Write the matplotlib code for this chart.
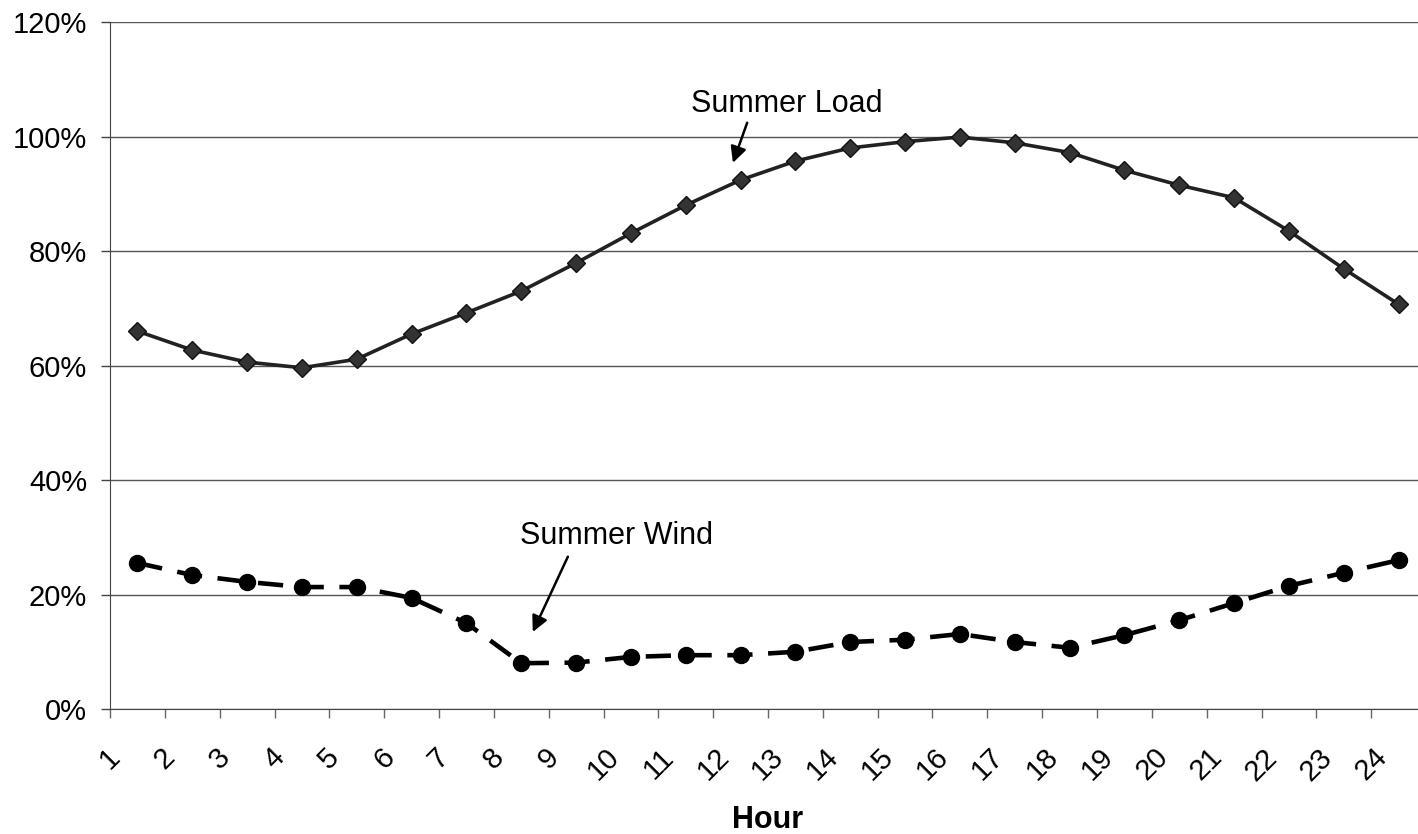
import matplotlib
matplotlib.use("Agg")
import matplotlib.pyplot as plt
from matplotlib.ticker import FuncFormatter
import numpy as np

hours = list(range(1, 25))
summer_load = [66.0, 62.7, 60.6, 59.6, 61.1, 65.5, 69.2, 73.0, 77.9, 83.1, 88.0, 92.4,
               95.7, 98.0, 99.1, 99.9, 98.9, 97.2, 94.1, 91.5, 89.3, 83.5, 76.9, 70.7]
summer_wind = [25.5, 23.4, 22.2, 21.3, 21.3, 19.4, 15.0, 8.0, 8.1, 9.1, 9.4, 9.4,
               10.0, 11.7, 12.1, 13.1, 11.7, 10.7, 12.9, 15.5, 18.5, 21.5, 23.8, 26.0]
y_ticks = [0, 20, 40, 60, 80, 100, 120]

plt.rcParams['font.family'] = ['Liberation Sans', 'DejaVu Sans']

fig = plt.figure(figsize=(14.18, 8.34), dpi=100)
ax = fig.add_axes([110/1418, 1-709/834, (1426-110)/1418, (709-22)/834])

x = np.arange(len(hours)) + 0.5
ax.plot(x, summer_load, color='#222222', lw=2.6, marker='D', ms=9.5,
        markerfacecolor='#333333', markeredgecolor='#111111', zorder=3, clip_on=False)
ax.plot(x, summer_wind, color='black', lw=3.3, ls=(0, (5.5, 3.4)), marker='o', ms=11.5,
        markerfacecolor='black', markeredgecolor='black', zorder=3, clip_on=False)

ax.set_xlim(0, 24)
ax.set_ylim(0, 120)
ax.set_yticks(y_ticks)
ax.yaxis.set_major_formatter(FuncFormatter(lambda v, p: f"{int(v)}%"))
ax.set_xticks(np.arange(24))
ax.set_xticklabels([str(h) for h in hours], rotation=45, ha='center', va='top')

ax.grid(axis='y', color='#555555', lw=1.0)
ax.set_axisbelow(True)
for s in ['top', 'right']:
    ax.spines[s].set_visible(False)
ax.spines['left'].set_color('#444444')
ax.spines['bottom'].set_color('#444444')
ax.tick_params(axis='y', length=6.5, width=1, color='#444444', labelsize=21, pad=10)
ax.tick_params(axis='x', length=6.5, width=1, color='#666666', labelsize=21, pad=18)

ax.set_xlabel('Hour', fontsize=22, fontweight='bold', labelpad=14)

ax.text(12.35, 105.6, 'Summer Load', fontsize=22, ha='center', va='center')
ax.annotate('', xy=(11.36, 95.4), xytext=(11.62, 102.4),
            arrowprops=dict(arrowstyle='-|>', color='black', lw=1.8,
                            mutation_scale=24, shrinkA=0, shrinkB=0))
ax.text(9.23, 30.2, 'Summer Wind', fontsize=22, ha='center', va='center')
ax.annotate('', xy=(7.71, 13.45), xytext=(8.35, 26.6),
            arrowprops=dict(arrowstyle='-|>', color='black', lw=1.8,
                            mutation_scale=24, shrinkA=0, shrinkB=0))

fig.savefig('out.png', dpi=100)
